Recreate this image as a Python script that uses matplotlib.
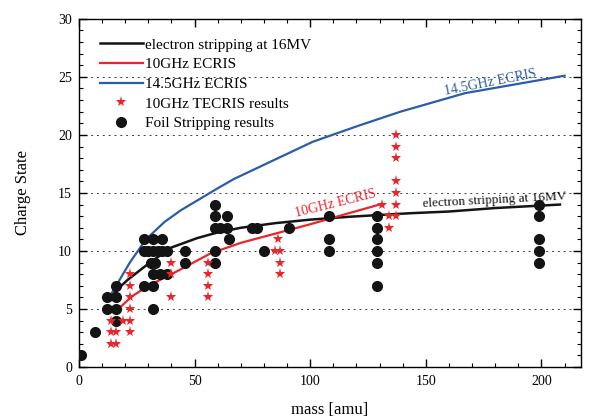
import matplotlib
matplotlib.use("Agg")
import matplotlib.pyplot as plt
from matplotlib.ticker import MultipleLocator

plt.rcParams["font.family"] = ["Liberation Serif", "DejaVu Serif"]

# ── data ─────────────────────────────────────────────────────────────────────
strip_mass = [14, 21, 30, 40, 51, 60, 70, 85, 100, 117, 143, 160, 180, 208]
strip_q = [6.2, 7.5, 8.9, 10.3, 11.1, 11.6, 12.0, 12.4, 12.7, 12.95, 13.25, 13.4, 13.7, 14.0]

ecr10_mass = [17, 23, 30, 41, 57, 70, 85, 100, 114, 130]
ecr10_q = [5.0, 6.1, 7.0, 8.1, 9.8, 10.7, 11.5, 12.3, 13.1, 14.0]

ecr14_mass = [14, 22, 29, 37, 44, 60, 67, 84, 101, 121, 139, 167, 210]
ecr14_q = [6.3, 9.0, 11.0, 12.5, 13.5, 15.4, 16.2, 17.8, 19.4, 20.8, 22.0, 23.6, 25.1]

tecris_mass = [14, 16, 14, 16, 14, 19,
               22, 22, 22, 22, 22, 22,
               40, 40, 40,
               56, 56, 56, 56,
               86, 85, 87, 87, 87,
               131, 134, 134,
               137, 137, 137, 137, 137, 137, 137]
tecris_q = [2, 2, 3, 3, 4, 4,
            3, 4, 5, 6, 7, 8,
            9, 8, 6,
            9, 8, 7, 6,
            11, 10, 10, 9, 8,
            14, 13, 12,
            13, 14, 15, 16, 18, 19, 20]

foil_mass = [1, 7, 12, 12, 16, 16, 16, 16,
             28, 28, 28, 30, 31, 33, 32, 32, 32, 32, 32, 34, 35,
             36, 36, 38, 38, 46, 46,
             59, 59, 59, 59, 59, 61, 64, 64, 65,
             75, 77, 80, 91,
             108, 108, 108,
             129, 129, 129, 129, 129, 129,
             199, 199, 199, 199, 199]
foil_q = [1, 3, 6, 5, 7, 6, 5, 4,
          11, 10, 7, 10, 9, 9, 11, 10, 8, 7, 5, 10, 8,
          11, 10, 10, 8, 10, 9,
          14, 13, 12, 10, 9, 12, 13, 12, 11,
          12, 12, 10, 12,
          13, 11, 10,
          13, 12, 11, 10, 9, 7,
          14, 13, 11, 10, 9]

BLACK = "#141414"
RED = "#e8262c"
BLUE = "#2b5ca8"

fig = plt.figure(figsize=(5.89, 4.19), dpi=100)
ax = fig.add_axes([0.134, 0.124, 0.852, 0.831])

l1, = ax.plot(strip_mass, strip_q, color=BLACK, lw=1.8, zorder=3)
l2, = ax.plot(ecr10_mass, ecr10_q, color=RED, lw=1.6, zorder=3)
l3, = ax.plot(ecr14_mass, ecr14_q, color=BLUE, lw=1.6, zorder=3)
foil, = ax.plot(foil_mass, foil_q, "o", color=BLACK, ms=7, zorder=4)
star, = ax.plot(tecris_mass, tecris_q, "*", color=RED, ms=8, mew=0, zorder=5)

ax.legend([l1, l2, l3, star, foil],
          ["electron stripping at 16MV", "10GHz ECRIS", "14.5GHz ECRIS",
           "10GHz TECRIS results", "Foil Stripping results"],
          loc="upper left", bbox_to_anchor=(0.03, 0.963), frameon=False,
          fontsize=11, handlelength=2.8, handletextpad=0.15, labelspacing=0.39,
          borderaxespad=0)

ax.text(177.8, 24.5, "14.5GHz ECRIS", color=BLUE, fontsize=10, rotation=11,
        rotation_mode="anchor", ha="center", va="center")
ax.text(111, 14.1, "10GHz ECRIS", color=RED, fontsize=10, rotation=14,
        rotation_mode="anchor", ha="center", va="center")
ax.text(179.7, 14.35, "electron stripping at 16MV", color=BLACK, fontsize=9.5,
        rotation=3, rotation_mode="anchor", ha="center", va="center")

ax.set_xlim(0, 217)
ax.set_ylim(0, 30)
ax.xaxis.set_major_locator(MultipleLocator(50))
ax.xaxis.set_minor_locator(MultipleLocator(10))
ax.yaxis.set_major_locator(MultipleLocator(5))
ax.yaxis.set_minor_locator(MultipleLocator(1))
ax.tick_params(which="both", direction="in", top=True, right=True, labelsize=10)
ax.tick_params(which="major", length=6, width=1)
ax.tick_params(which="minor", length=3, width=0.8)
ax.tick_params(axis="x", which="major", pad=6)
ax.tick_params(axis="y", which="major", pad=5)
ax.yaxis.grid(True, which="major", color="0.25", lw=0.7, linestyle=(0, (2, 4)))
for s in ax.spines.values():
    s.set_linewidth(1.0)

ax.set_xlabel("mass [amu]", fontsize=12, labelpad=9.5)
ax.set_ylabel("Charge State", fontsize=12, labelpad=19.5)

plt.savefig("out.png", dpi=100)
plt.close()
